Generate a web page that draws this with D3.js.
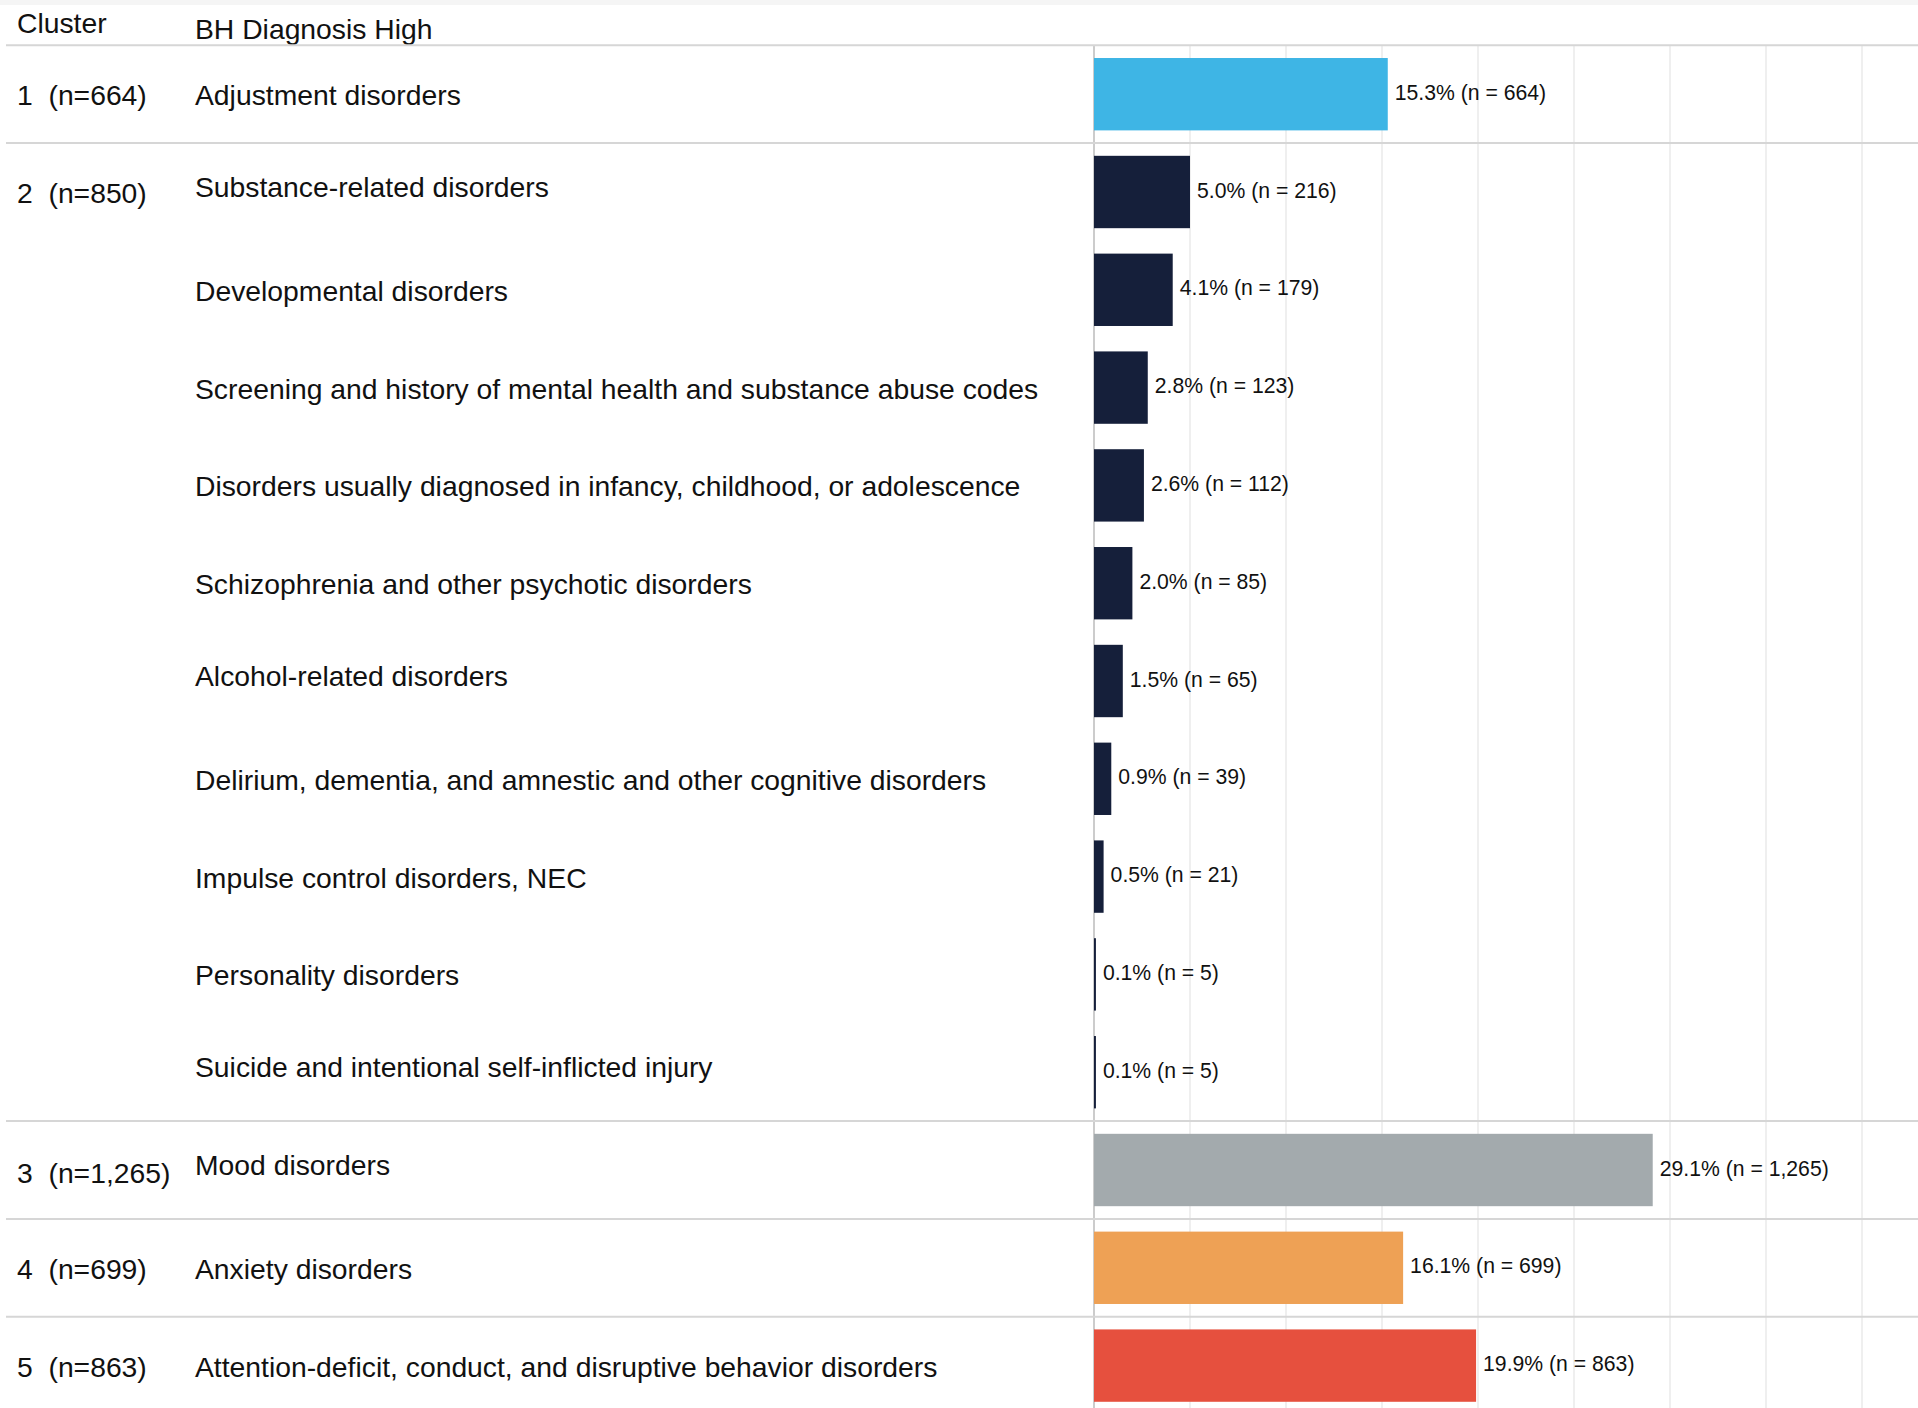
<!DOCTYPE html>
<html>
<head>
<meta charset="utf-8">
<script src="https://cdn.jsdelivr.net/npm/d3@7"></script>
<style>
  html, body { margin: 0; padding: 0; background: #fff; }
  svg { display: block; }
  text { font-family: "Liberation Sans", Arial, Helvetica, sans-serif; fill: #111; }
</style>
</head>
<body>
<svg id="chart" width="1918" height="1408"></svg>
<script>
// ---- data ----
const clusterIds = [1, 2, 3, 4, 5];
const clusterSizes = ["664", "850", "1,265", "699", "863"];
const clusterColors = ["#3eb5e5", "#151f3a", "#a3aaad", "#eea155", "#e6503e"];

const rowCluster = [1, 2, 2, 2, 2, 2, 2, 2, 2, 2, 2, 3, 4, 5];
const categories = [
  "Adjustment disorders",
  "Substance-related disorders",
  "Developmental disorders",
  "Screening and history of mental health and substance abuse codes",
  "Disorders usually diagnosed in infancy, childhood, or adolescence",
  "Schizophrenia and other psychotic disorders",
  "Alcohol-related disorders",
  "Delirium, dementia, and amnestic and other cognitive disorders",
  "Impulse control disorders, NEC",
  "Personality disorders",
  "Suicide and intentional self-inflicted injury",
  "Mood disorders",
  "Anxiety disorders",
  "Attention-deficit, conduct, and disruptive behavior disorders"
];
const pctValues = [15.3, 5.0, 4.1, 2.8, 2.6, 2.0, 1.5, 0.9, 0.5, 0.1, 0.1, 29.1, 16.1, 19.9];
const countValues = ["664", "216", "179", "123", "112", "85", "65", "39", "21", "5", "5", "1,265", "699", "863"];
const gridTicks = [0, 5, 10, 15, 20, 25, 30, 35, 40];
const headerCluster = "Cluster";
const headerDiagnosis = "BH Diagnosis High";

// ---- layout ----
const W = 1918, H = 1408;
const topY = 45.3, pitch = 97.8;
const axisX = 1094, pxPerPct = 19.2;
const labelFont = 28.3, valueFont = 21.2;
// small vertical nudges of category labels seen in the original rendering (px)
const labelNudge = [0, -6, 0, 0, 0, 0, -6, 0, 0, 0, -6, -6, 0, 0];
const clusterNudge = [0, 0, 2, 0, 0];

const svg = d3.select("#chart");

const rows = categories.map((c, i) => ({
  i, cat: c, cluster: rowCluster[i], pct: pctValues[i], n: countValues[i],
  first: i === 0 || rowCluster[i - 1] !== rowCluster[i]
}));

const y = d3.scaleBand()
  .domain(d3.range(categories.length))
  .range([topY, topY + pitch * categories.length])
  .paddingInner(0.26)
  .paddingOuter(0.13);

const x = d3.scaleLinear()
  .domain([0, 43])
  .range([axisX, axisX + 43 * pxPerPct]);

const color = d3.scaleOrdinal().domain(clusterIds).range(clusterColors);

// top band
svg.append("rect").attr("x", 0).attr("y", 0).attr("width", W).attr("height", 5).attr("fill", "#f5f5f5");

// grid lines
svg.append("g").selectAll("line")
  .data(gridTicks.filter(d => d > 0))
  .join("line")
  .attr("x1", d => x(d)).attr("x2", d => x(d))
  .attr("y1", topY).attr("y2", H)
  .attr("stroke", "#efefef").attr("stroke-width", 2);

// axis line
svg.append("line")
  .attr("x1", x(0)).attr("x2", x(0))
  .attr("y1", topY).attr("y2", H)
  .attr("stroke", "#cccccc").attr("stroke-width", 2);

// header
svg.append("text").attr("x", 17).attr("y", 32.5).attr("font-size", labelFont).text(headerCluster);
svg.append("text").attr("x", 195).attr("y", 38.5).attr("font-size", labelFont).text(headerDiagnosis);

// separators: header line and cluster boundaries
const sepYs = [topY].concat(rows.filter(r => r.first && r.i > 0).map(r => topY + pitch * r.i));
svg.append("g").selectAll("line")
  .data(sepYs)
  .join("line")
  .attr("x1", 6).attr("x2", W)
  .attr("y1", d => d).attr("y2", d => d)
  .attr("stroke", "#d6d6d6").attr("stroke-width", 2);

// bars
svg.append("g").selectAll("rect")
  .data(rows)
  .join("rect")
  .attr("x", x(0))
  .attr("y", d => y(d.i))
  .attr("width", d => x(d.pct) - x(0))
  .attr("height", y.bandwidth())
  .attr("fill", d => color(d.cluster));

const rowCenter = i => topY + pitch * i + pitch / 2;

// value labels
svg.append("g").selectAll("text")
  .data(rows)
  .join("text")
  .attr("x", d => x(d.pct) + 7)
  .attr("y", d => y(d.i) + y.bandwidth() / 2 + 5.5)
  .attr("font-size", valueFont)
  .text(d => `${d.pct.toFixed(1)}% (n = ${d.n})`);

// category labels
svg.append("g").selectAll("text")
  .data(rows)
  .join("text")
  .attr("x", 195)
  .attr("y", d => rowCenter(d.i) + 11 + labelNudge[d.i])
  .attr("font-size", labelFont)
  .text(d => d.cat);

// cluster labels
svg.append("g").selectAll("text")
  .data(rows.filter(r => r.first))
  .join("text")
  .attr("x", 17)
  .attr("y", d => rowCenter(d.i) + 11 + clusterNudge[clusterIds.indexOf(d.cluster)])
  .attr("font-size", labelFont)
  .style("white-space", "pre")
  .text(d => `${d.cluster}  (n=${clusterSizes[clusterIds.indexOf(d.cluster)]})`);
</script>
</body>
</html>
